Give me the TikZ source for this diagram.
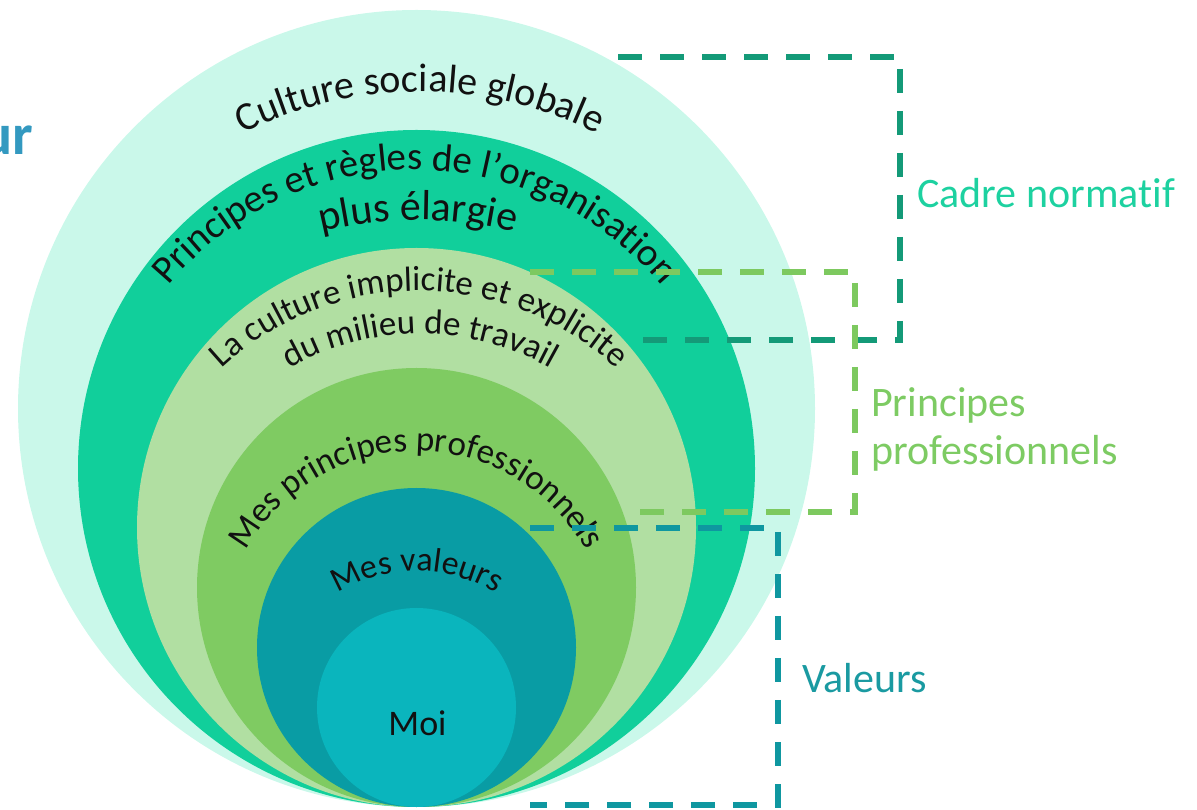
\documentclass[tikz,border=0pt]{standalone}
\usepackage{fontspec}
\setmainfont[Ligatures=NoCommon]{Carlito}
\usetikzlibrary{decorations.text}

\definecolor{ringA}{HTML}{CAF8EA}
\definecolor{ringB}{HTML}{11CF9B}
\definecolor{ringC}{HTML}{B1DFA2}
\definecolor{ringD}{HTML}{7FCB62}
\definecolor{ringE}{HTML}{099CA4}
\definecolor{ringF}{HTML}{0AB5BD}
\definecolor{frameNorm}{HTML}{149A78}
\definecolor{framePro}{HTML}{7DC95F}
\definecolor{frameVal}{HTML}{0F97A0}
\definecolor{txtNorm}{HTML}{1DD1A0}
\definecolor{txtPro}{HTML}{7DCB63}
\definecolor{txtVal}{HTML}{1A9AA1}
\definecolor{titleBlue}{HTML}{3399C0}
\definecolor{ink}{HTML}{111111}

\tikzset{
  ring/.style={circle, inner sep=0pt, outer sep=0pt, draw=none, fill=#1},
  bracket/.style={draw=#1, line width=6pt, dash pattern=on 24pt off 18pt},
  sidelabel/.style={inner sep=0pt, text=#1, font=\fontsize{42}{48}\selectfont},
}

% text set along an arc: centre x, centre y, radius, half-angle, font size, text
\newcommand{\arctext}[6]{%
  \path[decorate, decoration={text along path, text align=center,
        text={|\fontsize{#5}{#5}\selectfont\color{ink}|#6}}]
    (#1,#2) ++(90+#4:#3) arc[start angle=90+#4, end angle=90-#4, radius=#3];%
}

\begin{document}
\begin{tikzpicture}[x=1pt, y=1pt]
\useasboundingbox (0,0) rectangle (1197,809);

% nested circles, all touching at the bottom point
\node[ring=ringA, minimum size=797pt] (c1) at (416.5,400.5) {};
\node[ring=ringB, minimum size=677pt] (c2) at (416.5,340.5) {};
\node[ring=ringC, minimum size=559pt] (c3) at (416.5,281.5) {};
\node[ring=ringD, minimum size=439pt] (c4) at (416.5,221.5) {};
\node[ring=ringE, minimum size=319pt] (c5) at (416.5,161.5) {};
\node[ring=ringF, minimum size=199pt] (c6) at (416.5,101.5) {};

% curved captions of the rings
\arctext{420}{319}{398}{60}{40}{Culture sociale globale}
\arctext{415}{319}{320}{80}{39}{Principes et règles de l’organisation}
\arctext{418}{189}{400}{40}{42}{plus élargie}
\arctext{419}{228}{290}{80}{35}{La culture implicite et explicite}
\arctext{420}{210}{265}{60}{35}{du milieu de travail}
\arctext{416}{163}{195}{95}{35}{Mes principes professionnels}
\arctext{417}{88}{150}{70}{34}{Mes valeurs}
\node[anchor=base, inner sep=0pt, text=ink, font=\fontsize{36}{36}\selectfont] (moi) at (417.5,74) {Moi};

% dashed brackets
\draw[bracket=frameNorm] (618,752) -- (900,752) -- (900,469) -- (635,469);
\draw[bracket=framePro] (530,537) -- (855,537) -- (855,297) -- (635,297);
\draw[bracket=frameVal] (530,281) -- (778,281) -- (778,4) -- (530,4);

% bracket labels
\node[sidelabel=txtNorm, anchor=base west] (lblNorm) at (917,601) {Cadre normatif};
\node[sidelabel=txtPro, anchor=base west] (lblPro1) at (871,392) {Principes};
\node[sidelabel=txtPro, anchor=base west] (lblPro2) at (871,344) {professionnels};
\node[sidelabel=txtVal, anchor=base west] (lblVal) at (802,117) {Valeurs};

% title fragment at the left edge
\node[anchor=base east, inner sep=0pt, text=titleBlue, font=\bfseries\fontsize{58}{58}\selectfont] (title) at (33,654) {ur};
\end{tikzpicture}
\end{document}
